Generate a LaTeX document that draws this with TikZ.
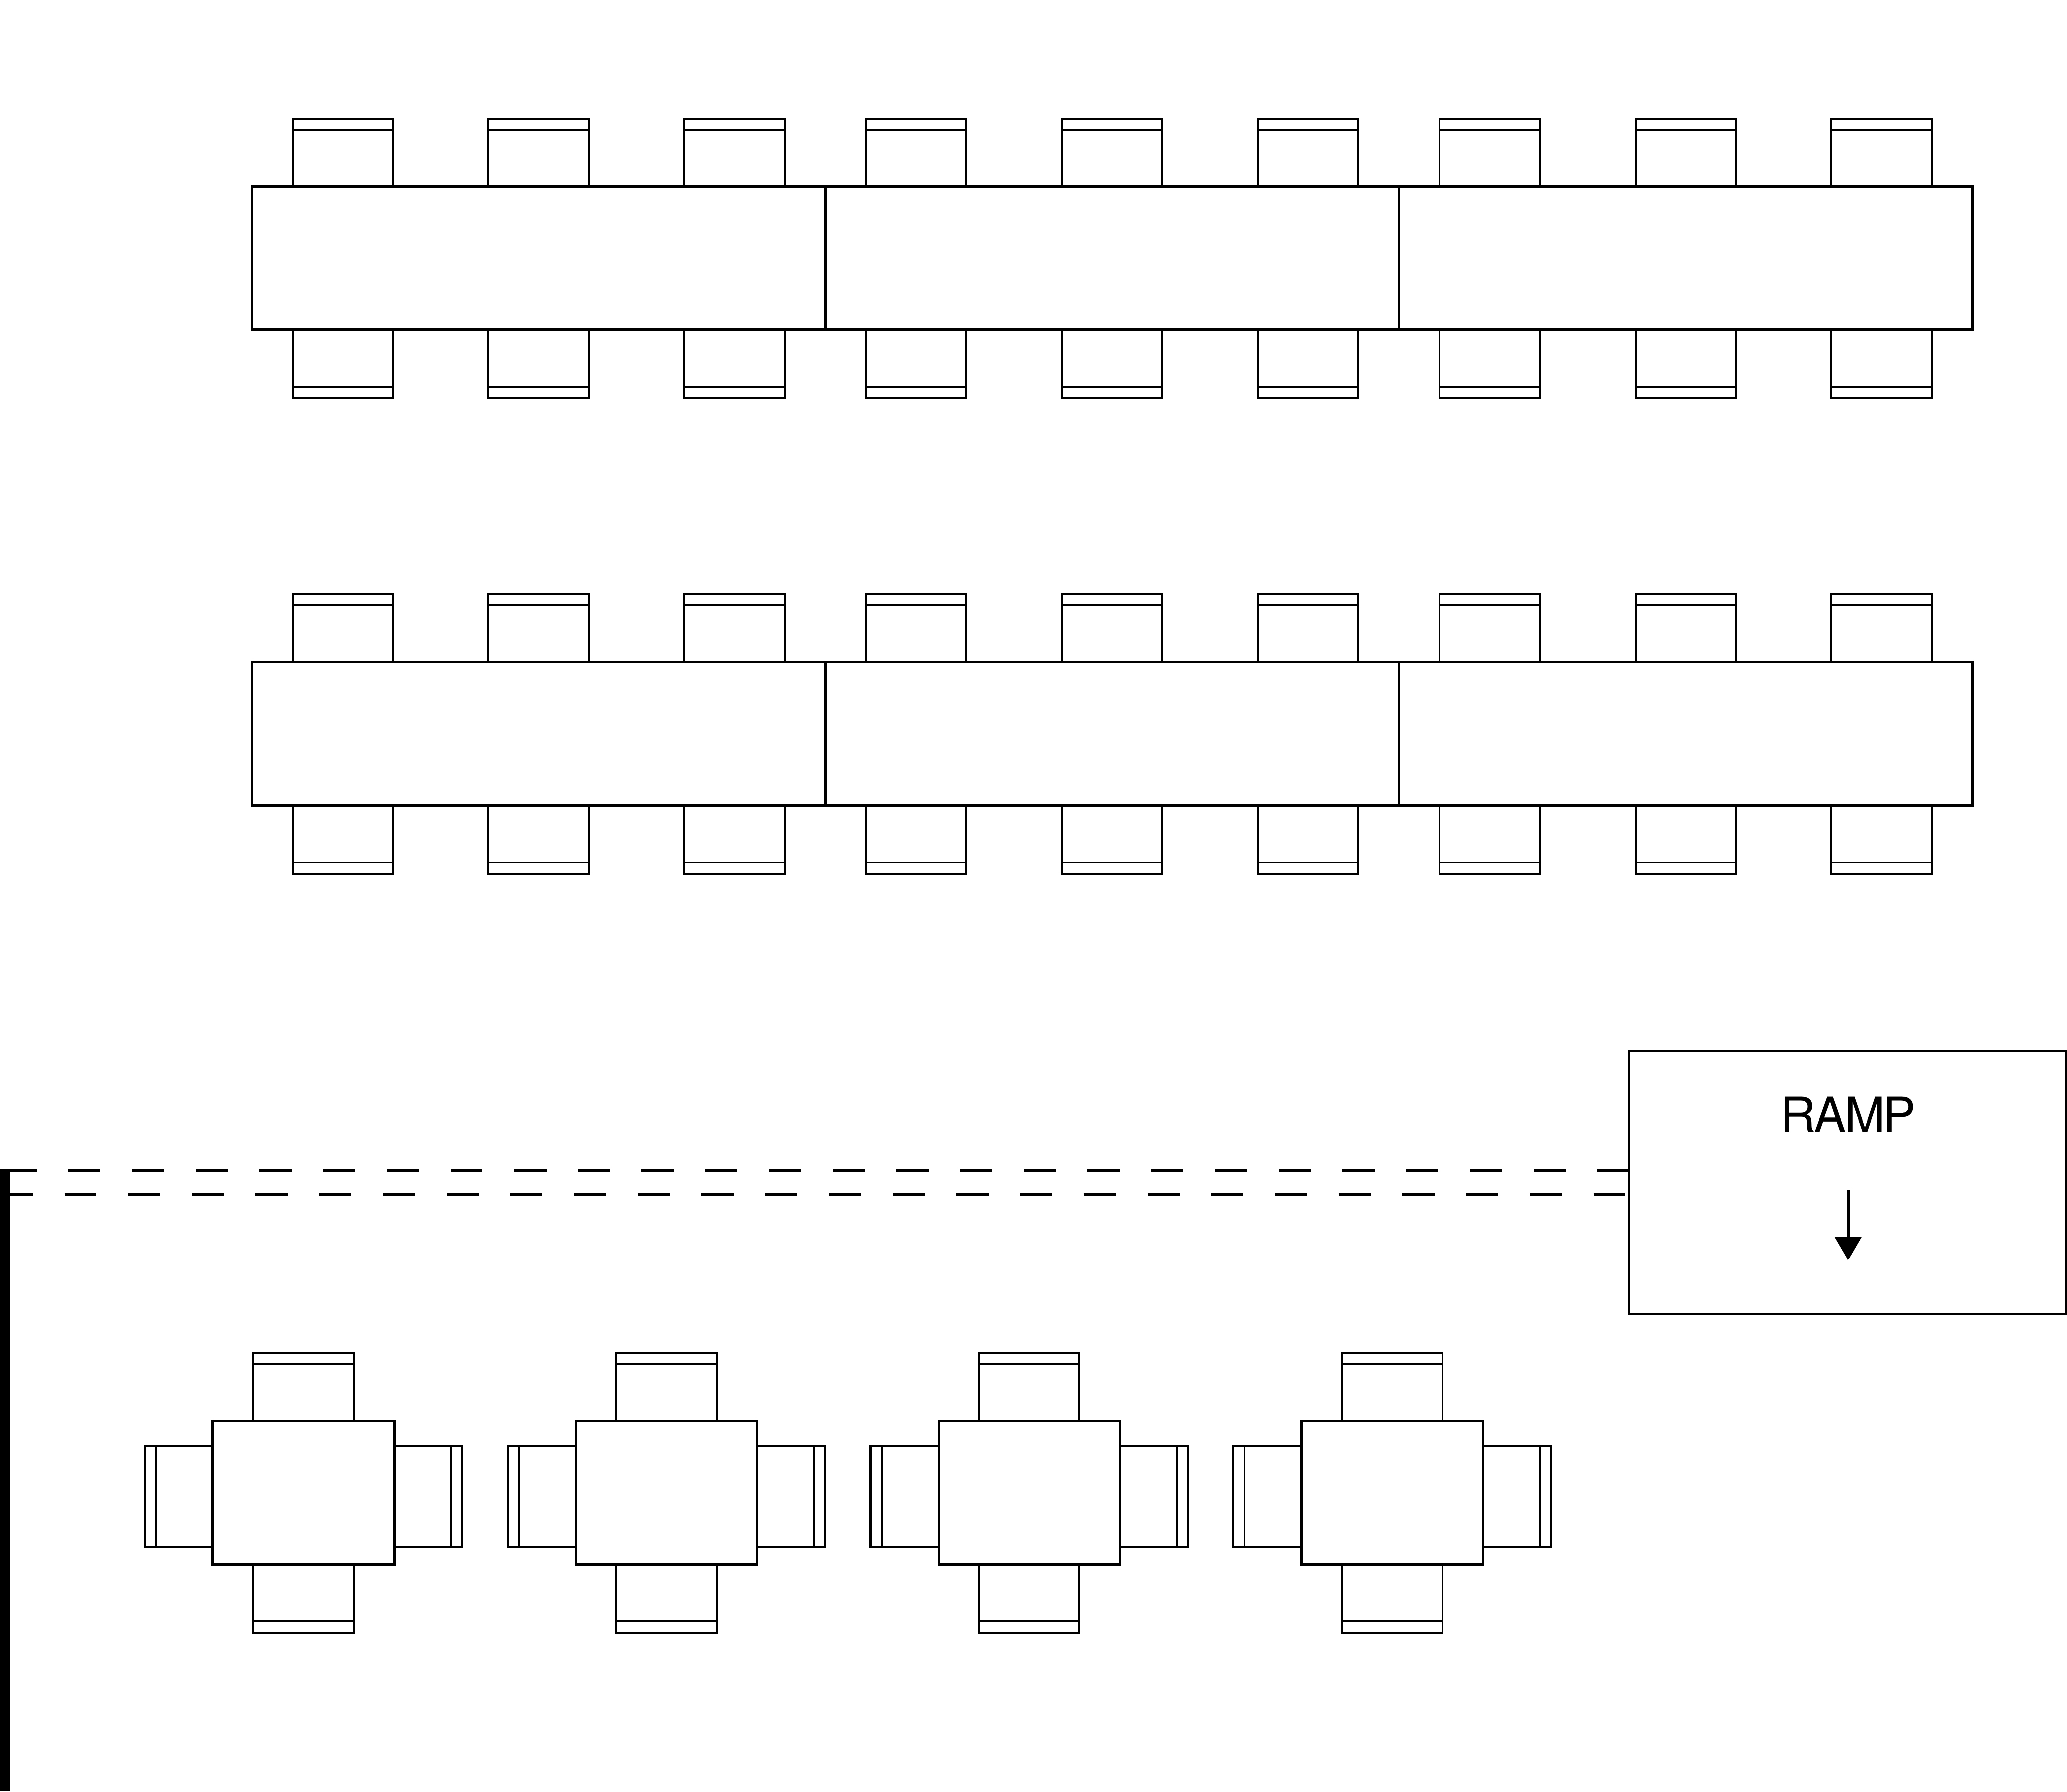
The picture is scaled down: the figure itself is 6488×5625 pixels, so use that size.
\documentclass[tikz,border=0pt]{standalone}
\usepackage{fontspec}
\setmainfont{TeX Gyre Heros}[LetterSpace=-4]
\usetikzlibrary{positioning,arrows.meta}

\begin{document}
\begin{tikzpicture}[x=0.1pt,y=-0.1pt,node distance=180pt,
	box/.style={draw,rectangle,inner sep=0pt,outer sep=0pt},
	long table/.style={box,line width=0.8pt,minimum width=180pt,minimum height=45pt},
	square table/.style={box,line width=0.8pt,minimum width=56.9pt,minimum height=45pt},
	chair/.style={box,line width=0.6pt,minimum width=31.5pt,minimum height=21.4pt},
	chair back/.style={box,line width=0.6pt,minimum width=31.5pt,minimum height=3.5pt},
	side chair/.style={box,line width=0.6pt,minimum width=21.4pt,minimum height=31.5pt},
	side back/.style={box,line width=0.6pt,minimum width=3.5pt,minimum height=31.5pt},
	door line/.style={line width=0.9pt,dash pattern=on 10.1pt off 9.9pt}]

		\useasboundingbox (0,0) rectangle (6488,5625);

		\node[long table] (t11) at (1691,811) { };
		\node[long table] (t12) [right of=t11] { };
		\node[long table] (t13) [right of=t12] { };
		\node[long table] (t21) at (1691,2304) { };
		\node[long table] (t22) [right of=t21] { };
		\node[long table] (t23) [right of=t22] { };

		\foreach \row in {1,2}
		\foreach \tb in {1,2,3}
		\foreach \seat/\dx in {1/-61.5,2/0,3/61.5} {
			\node[chair] (a\row\tb\seat) [above=0pt of t\row\tb.north, xshift=\dx pt] { };
			\node[chair back] (ab\row\tb\seat) [below=0pt of a\row\tb\seat.north] { };
			\node[chair] (c\row\tb\seat) [below=0pt of t\row\tb.south, xshift=\dx pt] { };
			\node[chair back] (cb\row\tb\seat) [above=0pt of c\row\tb\seat.south] { };
		}

		\node[square table] (s1) at (952.75,4687) { };
		\node[square table] (s2) [right of=s1, node distance=113.925pt] { };
		\node[square table] (s3) [right of=s2, node distance=113.925pt] { };
		\node[square table] (s4) [right of=s3, node distance=113.925pt] { };

		\foreach \tb in {1,2,3,4} {
			\node[chair] (n\tb) [above=0pt of s\tb.north] { };
			\node[chair back] (nb\tb) [below=0pt of n\tb.north] { };
			\node[chair] (d\tb) [below=0pt of s\tb.south] { };
			\node[chair back] (db\tb) [above=0pt of d\tb.south] { };
			\node[side chair] (l\tb) [left=0pt of s\tb.west, yshift=-1.15pt] { };
			\node[side back] (lb\tb) [right=0pt of l\tb.west] { };
			\node[side chair] (r\tb) [right=0pt of s\tb.east, yshift=-1.15pt] { };
			\node[side back] (rb\tb) [left=0pt of r\tb.east] { };
		}

		\node[box,line width=0.8pt,minimum width=137.4pt,minimum height=82.5pt] (ramp) at (5801,3712.5) { };
		\node[inner sep=0pt,font=\fontsize{15.3pt}{15.3pt}\selectfont] (ramp label) at (5801,3499) {RAMP};

		\coordinate (down1) at (5801,3737);
		\coordinate (down2) at (5801,3956);
		\draw[line width=0.75pt,-{Triangle[length=7.3pt,width=8.3pt]}] (down1) -- (down2);

		\coordinate (door1) at (14,3674.5);
		\coordinate (door2) at (2,3750.5);
		\draw[door line] (door1) -- (ramp.west |- door1);
		\draw[door line] (door2) -- (ramp.west |- door2);

		\node[fill=black,rectangle,inner sep=0pt,outer sep=0pt,minimum width=3.2pt,minimum height=195.5pt,anchor=north west] (wall) at (0,3670) { };

\end{tikzpicture}
\end{document}
